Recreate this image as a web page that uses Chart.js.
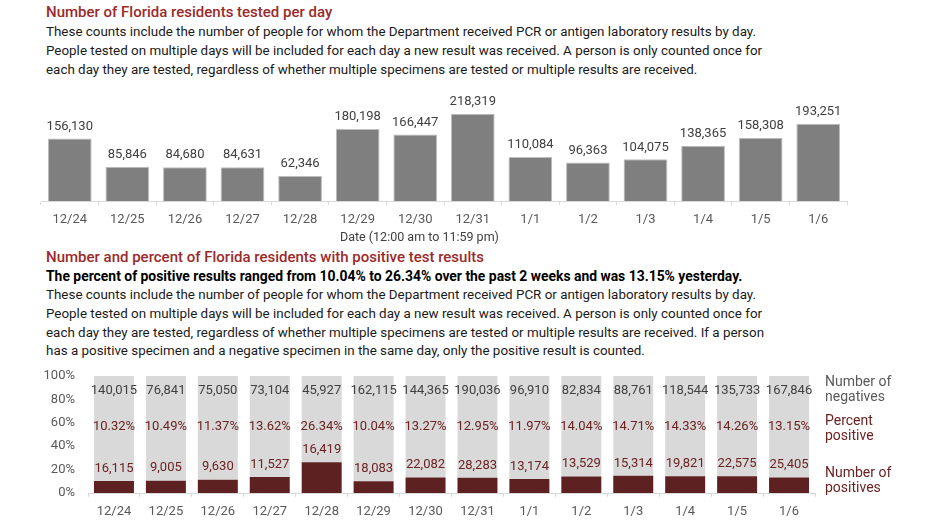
<!DOCTYPE html>
<html>
<head>
<meta charset="utf-8">
<script src="https://cdn.jsdelivr.net/npm/chart.js@4.4.0/dist/chart.umd.min.js"></script>
<style>
  body { margin: 0; background: #fff; font-family: Roboto, sans-serif; }
  .wrap { position: relative; width: 932px; height: 524px; overflow: hidden; }
  .title { position: absolute; left: 46px; color: #9b2a2a; font-size: 15px; font-weight: 500; white-space: nowrap; }
  .para { position: absolute; left: 46px; color: #1a1a1a; font-size: 13.4px; line-height: 18.8px; white-space: nowrap; }
  .bold { position: absolute; left: 46px; color: #000; font-size: 13.9px; font-weight: 700; white-space: nowrap; }
  .side { position: absolute; left: 825px; font-size: 14px; line-height: 15px; }
  .axtitle { position: absolute; left: 340px; top: 229px; font-size: 12.5px; color: #404040; white-space: nowrap; }
  canvas { position: absolute; left: 0; }
</style>
</head>
<body>
<div class="wrap">
  <div class="title" style="top:3px">Number of Florida residents tested per day</div>
  <div class="para" style="top:23px">These counts include the number of people for whom the Department received PCR or antigen laboratory results by day.<br>People tested on multiple days will be included for each day a new result was received. A person is only counted once for<br>each day they are tested, regardless of whether multiple specimens are tested or multiple results are received.</div>

  <canvas id="testedChart" width="932" height="150" style="top:85px"></canvas>
  <div class="axtitle">Date (12:00 am to 11:59 pm)</div>

  <div class="title" style="top:248px">Number and percent of Florida residents with positive test results</div>
  <div class="bold" style="top:268px">The percent of positive results ranged from 10.04% to 26.34% over the past 2 weeks and was 13.15% yesterday.</div>
  <div class="para" style="top:286px">These counts include the number of people for whom the Department received PCR or antigen laboratory results by day.<br>People tested on multiple days will be included for each day a new result was received. A person is only counted once for<br>each day they are tested, regardless of whether multiple specimens are tested or multiple results are received. If a person<br>has a positive specimen and a negative specimen in the same day, only the positive result is counted.</div>

  <canvas id="positiveChart" width="932" height="164" style="top:360px"></canvas>
  <div class="side" style="top:374px;color:#595959">Number of<br>negatives</div>
  <div class="side" style="top:413px;color:#6b2222">Percent<br>positive</div>
  <div class="side" style="top:465px;color:#6b2222">Number of<br>positives</div>
</div>

<script>
const dates = ['12/24', '12/25', '12/26', '12/27', '12/28', '12/29', '12/30', '12/31', '1/1', '1/2', '1/3', '1/4', '1/5', '1/6'];
const testedPerDay = [156130, 85846, 84680, 84631, 62346, 180198, 166447, 218319, 110084, 96363, 104075, 138365, 158308, 193251];
const negatives = [140015, 76841, 75050, 73104, 45927, 162115, 144365, 190036, 96910, 82834, 88761, 118544, 135733, 167846];
const positives = [16115, 9005, 9630, 11527, 16419, 18083, 22082, 28283, 13174, 13529, 15314, 19821, 22575, 25405];
const percentPositive = [10.32, 10.49, 11.37, 13.62, 26.34, 10.04, 13.27, 12.95, 11.97, 14.04, 14.71, 14.33, 14.26, 13.15];
const percentTicks = [0, 20, 40, 60, 80, 100];

const fmt = n => n.toLocaleString('en-US');
const labelFont = '13px Roboto, sans-serif';

// value labels above the gray bars
const testedLabels = {
  id: 'testedLabels',
  afterDatasetsDraw(chart) {
    const ctx = chart.ctx;
    const meta = chart.getDatasetMeta(0);
    ctx.save();
    ctx.font = labelFont;
    ctx.fillStyle = '#404040';
    ctx.textAlign = 'center';
    ctx.textBaseline = 'middle';
    meta.data.forEach((bar, i) => {
      ctx.fillText(fmt(testedPerDay[i]), bar.x, bar.y - 12);
    });
    ctx.restore();
  }
};

// counts and percents inside the 100% bars
const positiveLabels = {
  id: 'positiveLabels',
  afterDatasetsDraw(chart) {
    const ctx = chart.ctx;
    const y = chart.scales.y;
    const meta = chart.getDatasetMeta(0);
    ctx.save();
    ctx.font = labelFont;
    ctx.textAlign = 'center';
    ctx.textBaseline = 'middle';
    meta.data.forEach((bar, i) => {
      ctx.fillStyle = '#404040';
      ctx.fillText(fmt(negatives[i]), bar.x, y.getPixelForValue(87.5));
      ctx.fillStyle = '#6b2222';
      ctx.fillText(percentPositive[i].toFixed(2) + '%', bar.x, y.getPixelForValue(57));
      ctx.fillText(fmt(positives[i]), bar.x, bar.y - 12.5);
    });
    ctx.restore();
  }
};

const xAxis = (height) => ({
  grid: { display: true, drawOnChartArea: false, drawTicks: true, tickLength: 4, color: '#d9d9d9' },
  border: { display: true, color: '#d9d9d9' },
  ticks: { color: '#595959', font: { family: 'Roboto', size: 13 }, padding: 7, maxRotation: 0 },
  afterFit: scale => { scale.height = height; }
});

new Chart(document.getElementById('testedChart'), {
  type: 'bar',
  data: {
    labels: dates,
    datasets: [{
      data: testedPerDay,
      backgroundColor: '#7f7f7f',
      borderColor: '#bdbdbd',
      borderWidth: 1,
      categoryPercentage: 1,
      barPercentage: 0.76
    }]
  },
  options: {
    responsive: false,
    animation: false,
    layout: { padding: { left: 41, right: 85, top: 16, bottom: 0 } },
    plugins: { legend: { display: false }, tooltip: { enabled: false } },
    scales: {
      x: xAxis(34),
      y: { display: false, min: 0, max: 250000 }
    }
  },
  plugins: [testedLabels]
});

new Chart(document.getElementById('positiveChart'), {
  type: 'bar',
  data: {
    labels: dates,
    datasets: [{
      data: percentPositive,
      backgroundColor: '#5e2122',
      categoryPercentage: 1,
      barPercentage: 0.77
    }, {
      data: percentPositive.map(p => 100 - p),
      backgroundColor: '#d9d9d9',
      categoryPercentage: 1,
      barPercentage: 0.77
    }]
  },
  options: {
    responsive: false,
    animation: false,
    layout: { padding: { left: 0, right: 117, top: 16, bottom: 0 } },
    plugins: { legend: { display: false }, tooltip: { enabled: false } },
    scales: {
      x: Object.assign(xAxis(31), { stacked: true }),
      y: {
        stacked: true,
        min: 0,
        max: 100,
        afterBuildTicks: scale => { scale.ticks = percentTicks.map(v => ({ value: v })); },
        grid: { display: false, drawTicks: false },
        border: { display: false },
        ticks: { color: '#595959', font: { family: 'Roboto', size: 13 }, padding: 13, callback: v => v + '%' },
        afterFit: scale => {
          scale.width = 88;
          scale.paddingTop = 0;
          scale.paddingBottom = 0;
        }
      }
    }
  },
  plugins: [positiveLabels]
});
</script>
</body>
</html>
